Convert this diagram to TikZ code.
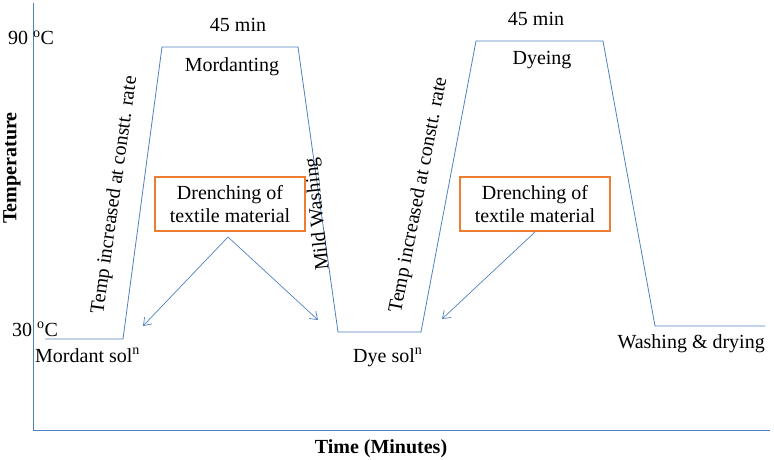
\documentclass[tikz,border=0pt]{standalone}
\usepackage{fontspec}
\setmainfont{Liberation Serif}
\usetikzlibrary{arrows.meta}
\definecolor{lineblue}{RGB}{79,129,189}
\definecolor{boxorange}{RGB}{237,125,49}
\begin{document}
\begin{tikzpicture}[x=1pt,y=-1pt,
  curve/.style={lineblue, line width=0.8pt},
  lbl/.style={inner sep=0pt, font=\fontsize{20}{23}\selectfont},
  drench/.style={draw=boxorange, line width=2pt, align=center, minimum width=150pt,
    minimum height=54pt, inner sep=2pt, font=\fontsize{20}{23}\selectfont},
  pointer/.style={lineblue, line width=0.7pt, -{Straight Barb[length=7pt,width=10pt]}}]
\useasboundingbox (0,0) rectangle (774,460);

% Axes
\coordinate (top) at (33,3);
\coordinate (origin) at (33,430);
\coordinate (xend) at (770,430);
\draw[curve] (top) -- (origin) -- (xend);
\node[lbl, anchor=base west] (t90) at (8,45) {90 \textsuperscript{o}C};
\node[lbl, anchor=base west] (t30) at (12,336) {30 \textsuperscript{o}C};
\node[lbl, font=\fontsize{20}{23}\selectfont\bfseries, rotate=90] (ylab) at (12,168) {Temperature};
\node[lbl, font=\fontsize{20}{23}\selectfont\bfseries, anchor=base] (xlab) at (381,453) {Time (Minutes)};

% Temperature profile
\coordinate (p0) at (45,339);
\coordinate (p1) at (123,339);
\coordinate (p2) at (162,47);
\coordinate (p3) at (298,47);
\coordinate (p4) at (338,332);
\coordinate (p5) at (421,332);
\coordinate (p6) at (476,41);
\coordinate (p7) at (603,41);
\coordinate (p8) at (655,326);
\coordinate (p9) at (765,326);
\draw[curve] (p0) -- (p1) -- (p2) -- (p3) -- (p4) -- (p5) -- (p6) -- (p7) -- (p8) -- (p9);

% Stage labels
\node[lbl, anchor=base] (hold1) at (238,32) {45 min};
\node[lbl, anchor=base] (hold2) at (536,26) {45 min};
\node[lbl, anchor=base] (mord) at (232,72) {Mordanting};
\node[lbl, anchor=base] (dye) at (542,65) {Dyeing};
\node[lbl, rotate=82] (ramp1) at (115,195) {Temp increased at constt. rate};
\node[lbl, rotate=79] (ramp2) at (419,195) {Temp increased at constt. rate};
\node[lbl, rotate=96] (wash) at (318,214) {Mild Washing};
\node[lbl, anchor=base west] (msol) at (35,362) {Mordant sol\textsuperscript{n}};
\node[lbl, anchor=base west] (dsol) at (353,362) {Dye sol\textsuperscript{n}};
\node[lbl, anchor=base east] (dry) at (765,348) {Washing \& drying};

% Drenching
\node[drench] (drench1) at (230,204) {Drenching of\\textile material};
\node[drench] (drench2) at (535,204) {Drenching of\\textile material};
\coordinate (apex1) at (228,237);
\coordinate (in1) at (143,326);
\coordinate (in2) at (318,320);
\coordinate (in3) at (442,319);
\draw[pointer] (apex1) -- (in1);
\draw[pointer] (apex1) -- (in2);
\draw[pointer] (drench2.south) -- (in3);
\end{tikzpicture}
\end{document}
